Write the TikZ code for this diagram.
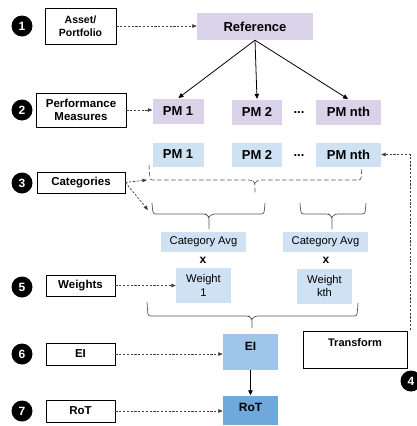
\documentclass[tikz,border=0pt]{standalone}
\usepackage{fontspec}
\setmainfont{Liberation Sans}
\usepackage{tikz}
\usetikzlibrary{arrows.meta,positioning,calc}
\definecolor{lavender}{HTML}{D9D2E9}
\definecolor{paleblue}{HTML}{CFE2F3}
\definecolor{midblue}{HTML}{9FC5E8}
\definecolor{deepblue}{HTML}{6FA8DC}
\tikzset{%
       number/.style = { circle, fill=black, text=white, minimum size=21pt, inner sep=0pt,
                         font=\fontsize{12}{12}\selectfont\bfseries },
      stepbox/.style = { draw, line width=0.8pt, align=center, inner sep=0pt,
                         font=\fontsize{11.5}{13.5}\selectfont\bfseries },
      boxsize/.style 2 args = { minimum width=#1, minimum height=#2 },
       topset/.style 2 args = { text height=#1, text depth=#2, minimum height=0pt },
       pmlila/.style = { fill=lavender, inner sep=0pt, font=\fontsize{13}{15}\selectfont\bfseries },
       pmblue/.style = { fill=paleblue, inner sep=0pt, font=\fontsize{13}{15}\selectfont\bfseries },
          avg/.style = { fill=paleblue, inner sep=0pt, align=center, font=\fontsize{11.2}{13.5}\selectfont },
        times/.style = { inner sep=0pt, font=\fontsize{12}{12}\selectfont\bfseries },
        ellip/.style = { inner sep=0pt, font=\fontsize{13}{13}\selectfont\bfseries },
         feed/.style = { draw=black!75, line width=0.7pt, dash pattern=on 2.2pt off 1.6pt,
                         -{Triangle[length=4.5pt,width=3.5pt]} },
         tree/.style = { draw=black, line width=0.8pt, ->, shorten >=0.5pt },
          bar/.style = { draw=black!65, line width=0.7pt, rounded corners=2.5pt },
     dashbar/.style = { bar, dash pattern=on 4.5pt off 2.5pt }
}
\begin{document}
\begin{tikzpicture}[x=1pt,y=-1pt,>={Triangle[length=5pt,width=4.5pt]}]
\useasboundingbox (0,0) rectangle (416,426);
% step numbers
\node[number] (n1) at (22,26) {1};
\node[number] (n2) at (22,110) {2};
\node[number] (n3) at (22,183) {3};
\node[number] (n5) at (22,287) {5};
\node[number] (n6) at (22,354) {6};
\node[number] (n7) at (22,411) {7};
\node[number] (n4) at (411,381) {4};
% left-hand boxes
\node[stepbox, boxsize={71}{36}, font=\fontsize{10.5}{12.5}\selectfont\bfseries] (asset) at (80.5,26) {Asset/\\Portfolio};
\node[stepbox, boxsize={90}{34}] (perf) at (81,110) {Performance\\Measures};
\node[stepbox, boxsize={88}{21}] (cat) at (81,182.5) {Categories};
\node[stepbox, boxsize={69}{21}] (wts) at (80.5,285.5) {Weights};
\node[stepbox, boxsize={69}{22}] (eilab) at (80.5,354) {EI};
\node[stepbox, boxsize={69}{22}] (rotlab) at (80.5,411) {RoT};
% reference and performance measures
\node[pmlila, boxsize={116}{27}] (ref) at (255,26.5) {Reference};
\node[pmlila, boxsize={51}{25}] (pmA1) at (178,111) {PM 1};
\node[pmlila, boxsize={50}{25}] (pmA2) at (257,112) {PM 2};
\node[ellip] (dotsA) at (299,113) {...};
\node[pmlila, boxsize={65}{25}] (pmAn) at (348.5,112) {PM nth};
\node[pmblue, boxsize={51}{24}] (pmB1) at (178,154.5) {PM 1};
\node[pmblue, boxsize={50}{24}] (pmB2) at (257,154.5) {PM 2};
\node[ellip] (dotsB) at (299,156) {...};
\node[pmblue, boxsize={65}{24}] (pmBn) at (348.5,154.5) {PM nth};
% category averages and weights
\node[avg, boxsize={85}{20}] (avg1) at (203.5,242) {Category Avg};
\node[avg, boxsize={85}{20}] (avg2) at (325.5,242) {Category Avg};
\node[times] (x1) at (203,260) {x};
\node[times] (x2) at (326,260) {x};
\node[avg, boxsize={55}{35}] (w1) at (203.5,285.5) {Weight\\1};
\node[avg, boxsize={55}{35}] (wk) at (324.5,286) {Weight\\kth};
% index and rate
\node[fill=midblue, inner sep=3pt, minimum width=55pt, topset={13pt}{17pt},
      font=\fontsize{12}{12}\selectfont\bfseries] (ei) at (250.5,352) {EI};
\node[fill=deepblue, inner sep=3pt, minimum width=55pt, topset={12.5pt}{10.5pt},
      font=\fontsize{12}{12}\selectfont\bfseries] (rot) at (250.5,410.5) {RoT};
\node[draw, line width=0.8pt, inner sep=3pt, minimum width=104pt, topset={12pt}{19pt},
      font=\fontsize{11}{12}\selectfont\bfseries] (trans) at (355,349.5) {Transform};
% braces
\draw[dashbar] (149,165) -- (150,180) -- (252,180) -- (255,183) -- (255,193)
               (255,183) -- (258,180) -- (361,180) -- (362,167);
\draw[bar] (152,203) -- (153,214) -- (206,214) -- (209,217) -- (209,229)
           (209,217) -- (212,214) -- (264,214) -- (265,203);
\draw[bar] (300,203) -- (301,214) -- (329,214) -- (332,217) -- (332,229)
           (332,217) -- (335,214) -- (365,214) -- (366,203);
\draw[bar] (147,302) -- (148,316) -- (249,316) -- (252,319) -- (252,328)
           (252,319) -- (255,316) -- (357,316) -- (358,303);
\coordinate (dashend) at (147,180);
\coordinate (solidend) at (148,210);
\coordinate (loop) at (410,330);
% connectors
\draw[tree] (ref.south) -- (pmA1.north);
\draw[tree] (ref.south) -- (pmA2.north);
\draw[tree] (ref.south) -- (pmAn.north);
\draw[tree] (ei.south) -- (rot.north);
\draw[feed] (asset.east) -- (asset.east -| ref.west);
\draw[feed] (perf.east) -- (perf.east -| pmA1.west);
\draw[feed] (cat.east) -- (dashend);
\draw[feed] (cat.east) -- (solidend);
\draw[feed] (wts.east) -- (wts.east -| w1.west);
\draw[feed] (eilab.east) -- (eilab.east -| ei.west);
\draw[feed] (rotlab.east) -- (rotlab.east -| rot.west);
\draw[feed] (loop) |- (pmBn.east);
\end{tikzpicture}
\end{document}
